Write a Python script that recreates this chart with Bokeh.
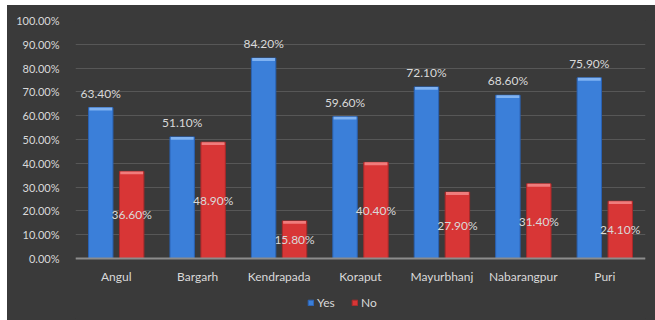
from bokeh.plotting import figure
from bokeh.models import ColumnDataSource, FactorRange, NumeralTickFormatter, Legend, LegendItem, LabelSet, FixedTicker
from bokeh.transform import dodge
from bokeh.core.properties import value
from bokeh.embed import file_html
from bokeh.resources import INLINE

districts = ["Angul", "Bargarh", "Kendrapada", "Koraput", "Mayurbhanj", "Nabarangpur", "Puri"]
yes_pct = [63.4, 51.1, 84.2, 59.6, 72.1, 68.6, 75.9]
no_pct = [36.6, 48.9, 15.8, 40.4, 27.9, 31.4, 24.1]
y_ticks = [0, 10, 20, 30, 40, 50, 60, 70, 80, 90, 100]

FONT = "Lato"
TXT = "#d9d9d9"
BLUE = "#3b7fd9"
RED = "#d83636"
BG = "#3a3a3a"

yes = [v / 100 for v in yes_pct]
no = [v / 100 for v in no_pct]
src = ColumnDataSource(dict(
    cat=districts,
    yes=yes,
    no=no,
    yes_lbl=[f"{v:.2f}%" for v in yes_pct],
    no_lbl=[f"{v:.2f}%" for v in no_pct],
    no_mid=[v / 2 for v in no],
    yes_cap=[v - 0.012 for v in yes],
    no_cap=[v - 0.012 for v in no],
))

# frame: 0% at 238px below 100%, extra 60px below the zero line for labels/legend
p = figure(width=648, height=315, margin=(5, 0, 0, 7),
           x_range=FactorRange(*districts, range_padding=0),
           y_range=(-0.252, 1.0), output_backend="svg", toolbar_location=None,
           min_border_left=68, min_border_right=10, min_border_top=15, min_border_bottom=2)
p.styles = {"background-color": BG}
p.background_fill_color = BG
p.border_fill_color = BG
p.outline_line_color = None

off = 0.19
w = 0.30
rb = p.vbar(x=dodge("cat", -off, range=p.x_range), top="yes", width=w, source=src,
            fill_color=BLUE, line_color="#2a62b3", line_width=1)
rr = p.vbar(x=dodge("cat", off, range=p.x_range), top="no", width=w, source=src,
            fill_color=RED, line_color="#a82a2a", line_width=1)
# lighter top bevel
p.vbar(x=dodge("cat", -off, range=p.x_range), top="yes", bottom="yes_cap", width=w - 0.02,
       source=src, fill_color="#7fb2f2", line_color=None)
p.vbar(x=dodge("cat", off, range=p.x_range), top="no", bottom="no_cap", width=w - 0.02,
       source=src, fill_color="#f07c7c", line_color=None)

p.add_layout(LabelSet(x=dodge("cat", -off, range=p.x_range), y="yes", text="yes_lbl", source=src,
                      text_align="center", text_baseline="bottom", y_offset=7,
                      text_color=TXT, text_font=value(FONT), text_font_size="12px"))
p.add_layout(LabelSet(x=dodge("cat", off, range=p.x_range), y="no_mid", text="no_lbl", source=src,
                      text_align="center", text_baseline="middle",
                      text_color=TXT, text_font=value(FONT), text_font_size="12px"))

p.yaxis.ticker = FixedTicker(ticks=[t / 100 for t in y_ticks])
p.yaxis.formatter = NumeralTickFormatter(format="0.00%")
p.yaxis.axis_line_color = None
p.yaxis.major_tick_line_color = None
p.yaxis.minor_tick_line_color = None
p.yaxis.major_label_text_color = TXT
p.yaxis.major_label_text_font = FONT
p.yaxis.major_label_text_font_size = "11px"
p.yaxis.major_label_standoff = 10

p.xaxis.fixed_location = 0
p.xaxis.axis_line_color = "#8c8c8c"
p.xaxis.axis_line_width = 2
p.xaxis.major_tick_line_color = None
p.xaxis.minor_tick_line_color = None
p.xaxis.major_label_text_color = TXT
p.xaxis.major_label_text_font = FONT
p.xaxis.major_label_text_font_size = "12px"
p.xaxis.major_label_standoff = 4

p.xgrid.grid_line_color = None
p.ygrid.grid_line_color = "#575757"
p.ygrid.grid_line_width = 1

legend = Legend(items=[LegendItem(label="Yes", renderers=[rb]), LegendItem(label="No", renderers=[rr])],
                orientation="horizontal", location=(232, 8),
                background_fill_alpha=0, border_line_color=None,
                label_text_color=TXT, label_text_font=FONT, label_text_font_size="12px",
                glyph_width=7, glyph_height=7, label_standoff=3, spacing=14,
                padding=0, margin=0, label_height=14)
p.add_layout(legend)

open("out.html", "w").write(file_html(p, INLINE))
